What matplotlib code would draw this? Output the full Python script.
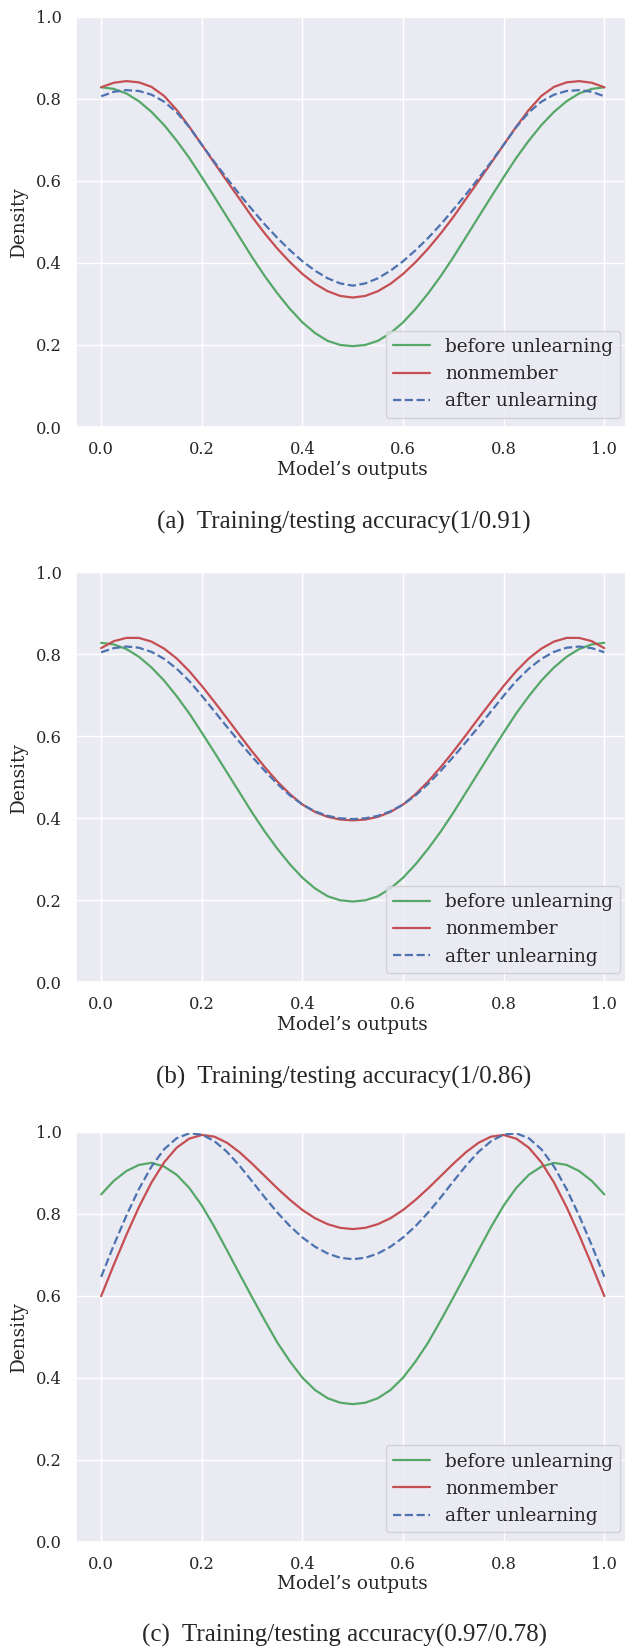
import numpy as np
import matplotlib
matplotlib.use("Agg")
import matplotlib.pyplot as plt
import seaborn as sns

# Model output grid on which the densities were evaluated
outputs = np.linspace(0.0, 1.0, 41)

# (a) Training/testing accuracy 1/0.91
before_a = [0.828, 0.824, 0.813, 0.794, 0.768, 0.736, 0.698, 0.656, 0.609, 0.561,
            0.512, 0.463, 0.414, 0.368, 0.326, 0.288, 0.255, 0.229, 0.210, 0.200,
            0.197,
            0.200, 0.210, 0.229, 0.255, 0.288, 0.326, 0.368, 0.414, 0.463, 0.512,
            0.561, 0.609, 0.656, 0.698, 0.736, 0.768, 0.794, 0.813, 0.824, 0.828]
nonmember_a = [0.828, 0.839, 0.843, 0.840, 0.829, 0.807, 0.773, 0.732, 0.688, 0.6435,
               0.5995, 0.556, 0.512, 0.472, 0.435, 0.402, 0.373, 0.349, 0.331, 0.3195,
               0.3155,
               0.3195, 0.331, 0.349, 0.373, 0.402, 0.435, 0.472, 0.512, 0.556, 0.5995,
               0.6435, 0.688, 0.732, 0.773, 0.807, 0.829, 0.840, 0.843, 0.839, 0.828]
after_a = [0.806, 0.817, 0.821, 0.819, 0.810, 0.793, 0.767, 0.731, 0.688, 0.646,
           0.606, 0.567, 0.530, 0.494, 0.461, 0.431, 0.404, 0.381, 0.3625, 0.350,
           0.3445,
           0.350, 0.3625, 0.381, 0.404, 0.431, 0.461, 0.494, 0.530, 0.567, 0.606,
           0.646, 0.688, 0.731, 0.767, 0.793, 0.810, 0.819, 0.821, 0.817, 0.806]

# (b) Training/testing accuracy 1/0.86
before_b = [0.828, 0.824, 0.813, 0.794, 0.768, 0.736, 0.698, 0.656, 0.609, 0.561,
            0.512, 0.463, 0.414, 0.368, 0.326, 0.288, 0.255, 0.229, 0.210, 0.200,
            0.197,
            0.200, 0.210, 0.229, 0.255, 0.288, 0.326, 0.368, 0.414, 0.463, 0.512,
            0.561, 0.609, 0.656, 0.698, 0.736, 0.768, 0.794, 0.813, 0.824, 0.828]
nonmember_b = [0.815, 0.832, 0.840, 0.840, 0.831, 0.814, 0.790, 0.759, 0.723, 0.684,
               0.644, 0.603, 0.563, 0.525, 0.490, 0.459, 0.4335, 0.4155, 0.4035, 0.397,
               0.395,
               0.397, 0.4035, 0.4155, 0.4335, 0.459, 0.490, 0.525, 0.563, 0.603, 0.644,
               0.684, 0.723, 0.759, 0.790, 0.814, 0.831, 0.840, 0.840, 0.832, 0.815]
after_b = [0.805, 0.815, 0.819, 0.816, 0.806, 0.789, 0.765, 0.735, 0.699, 0.661,
           0.623, 0.586, 0.550, 0.516, 0.484, 0.456, 0.4335, 0.417, 0.406, 0.400,
           0.398,
           0.400, 0.406, 0.417, 0.4335, 0.456, 0.484, 0.516, 0.550, 0.586, 0.623,
           0.661, 0.699, 0.735, 0.765, 0.789, 0.806, 0.816, 0.819, 0.815, 0.805]

# (c) Training/testing accuracy 0.97/0.78
before_c = [0.847, 0.880, 0.904, 0.919, 0.924, 0.915, 0.895, 0.863, 0.820, 0.768,
            0.711, 0.653, 0.596, 0.540, 0.486, 0.440, 0.400, 0.370, 0.350, 0.339,
            0.3355,
            0.339, 0.350, 0.370, 0.400, 0.440, 0.486, 0.540, 0.596, 0.653, 0.711,
            0.768, 0.820, 0.863, 0.895, 0.915, 0.924, 0.919, 0.904, 0.880, 0.847]
nonmember_c = [0.599, 0.675, 0.748, 0.816, 0.876, 0.925, 0.961, 0.983, 0.992, 0.988,
               0.973, 0.950, 0.922, 0.892, 0.862, 0.834, 0.809, 0.789, 0.7745, 0.7655,
               0.7625,
               0.7655, 0.7745, 0.789, 0.809, 0.834, 0.862, 0.892, 0.922, 0.950, 0.973,
               0.988, 0.992, 0.983, 0.961, 0.925, 0.876, 0.816, 0.748, 0.675, 0.599]
after_c = [0.646, 0.723, 0.795, 0.860, 0.915, 0.957, 0.984, 0.996, 0.993, 0.977,
           0.951, 0.917, 0.879, 0.840, 0.803, 0.770, 0.742, 0.7195, 0.703, 0.6925,
           0.689,
           0.6925, 0.703, 0.7195, 0.742, 0.770, 0.803, 0.840, 0.879, 0.917, 0.951,
           0.977, 0.993, 0.996, 0.984, 0.957, 0.915, 0.860, 0.795, 0.723, 0.646]

captions = ["(a)  Training/testing accuracy(1/0.91)",
            "(b)  Training/testing accuracy(1/0.86)",
            "(c)  Training/testing accuracy(0.97/0.78)"]
series_labels = ["before unlearning", "nonmember", "after unlearning"]
xticks = [0.0, 0.2, 0.4, 0.6, 0.8, 1.0]
yticks = [0.0, 0.2, 0.4, 0.6, 0.8, 1.0]

panels = [(before_a, nonmember_a, after_a),
          (before_b, nonmember_b, after_b),
          (before_c, nonmember_c, after_c)]

sns.set_theme(style="darkgrid")
plt.rcParams["font.family"] = ["DejaVu Serif"]
pal = sns.color_palette("deep")
green, red, blue = pal[2], pal[3], pal[0]

W, H = 625, 1648
fig = plt.figure(figsize=(W / 100, H / 100), dpi=100)

# axes boxes in pixels: (left, top, width, height)
boxes = [(76, 16.7, 553.5, 410.3),
         (76, 572.3, 553.5, 410.0),
         (76, 1131.7, 553.5, 410.0)]
caption_y = [522, 1077, 1635]

line_kw = dict(lw=1.6, solid_joinstyle="round", solid_capstyle="round",
               dash_joinstyle="round")

for (before, nonmem, after), (l, t, w, h), cap, cy in zip(panels, boxes, captions, caption_y):
    ax = fig.add_axes([l / W, 1 - (t + h) / H, w / W, h / H])
    ax.plot(outputs, before, color=green, label=series_labels[0], **line_kw)
    ax.plot(outputs, nonmem, color=red, label=series_labels[1], **line_kw)
    ax.plot(outputs, after, color=blue, ls="--", label=series_labels[2], **line_kw)
    ax.set_xlim(-0.05, 1.05)
    ax.set_ylim(0.0, 1.0)
    ax.set_xticks(xticks)
    ax.set_yticks(yticks)
    ax.tick_params(labelsize=11.7, pad=4)
    ax.set_xlabel("Model\u2019s outputs", fontsize=13.3, labelpad=2)
    ax.set_ylabel("Density", fontsize=13.3, labelpad=6)
    ax.legend(loc="lower right", fontsize=13.3, handlelength=2.0)
    fig.text(344 / W, 1 - cy / H, cap, ha="center", va="center",
             fontsize=18, family=["Liberation Serif"])

fig.savefig("out.png", dpi=100)
